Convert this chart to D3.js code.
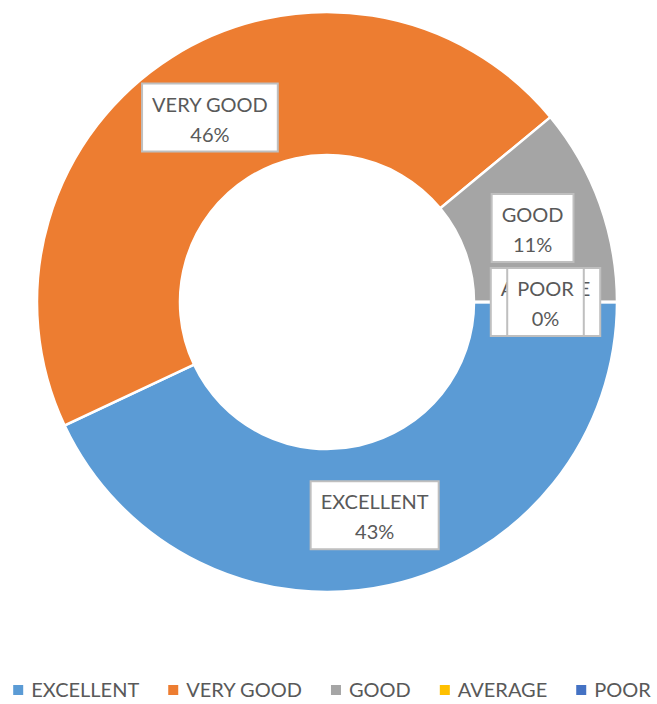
<!DOCTYPE html>
<html>
<head>
    <meta charset="utf-8" />
    <title>Rating donut</title>
    <script src="https://cdn.jsdelivr.net/npm/d3@7"></script>
    <style>
        body { margin: 0; background: #fff; }
        text { font-family: Lato, "Open Sans", sans-serif; fill: #595959; }
    </style>
</head>
<body>
    <script>
        // data
        var categories = ["EXCELLENT", "VERY GOOD", "GOOD", "AVERAGE", "POOR"];
        var values = [43, 46, 11, 0, 0];
        var colors = ["#5B9BD5", "#ED7D31", "#A5A5A5", "#FFC000", "#4472C4"];

        var w = 657, h = 704;
        var cx = 327, cy = 302;
        var outerR = 290, innerR = 147;
        var fontSize = 20;

        var total = d3.sum(values);
        var data = categories.map(function (c, i) {
            return { name: c, value: values[i], color: colors[i] };
        });

        var svg = d3.select("body").append("svg")
            .attr("width", w)
            .attr("height", h);

        var pie = d3.pie()
            .sort(null)
            .value(function (d) { return d.value; })
            .startAngle(Math.PI / 2)
            .endAngle(Math.PI / 2 + 2 * Math.PI);

        var arc = d3.arc().innerRadius(innerR).outerRadius(outerR);
        var labelArc = d3.arc()
            .innerRadius((innerR + outerR) / 2)
            .outerRadius((innerR + outerR) / 2);

        var arcs = pie(data);

        var g = svg.append("g")
            .attr("transform", "translate(" + cx + "," + cy + ")");

        // slices
        g.selectAll("path.slice")
            .data(arcs)
            .enter()
            .append("path")
            .attr("class", "slice")
            .attr("d", arc)
            .attr("fill", function (d) { return d.data.color; })
            .attr("stroke", "#fff")
            .attr("stroke-width", 2.5);

        // data labels (drawn in order, so later ones sit on top)
        var labels = g.selectAll("g.label")
            .data(arcs)
            .enter()
            .append("g")
            .attr("class", "label")
            .attr("transform", function (d) {
                var c = labelArc.centroid(d);
                return "translate(" + c[0] + "," + c[1] + ")";
            });

        labels.each(function (d) {
            var lg = d3.select(this);
            var box = lg.append("rect");
            var t1 = lg.append("text")
                .attr("text-anchor", "middle")
                .attr("y", -6)
                .style("font-size", fontSize + "px")
                .text(d.data.name);
            var t2 = lg.append("text")
                .attr("text-anchor", "middle")
                .attr("y", 24)
                .style("font-size", fontSize + "px")
                .text(Math.round(d.data.value / total * 100) + "%");
            var tw = Math.max(t1.node().getComputedTextLength(), t2.node().getComputedTextLength());
            var bw = tw + 20;
            box.attr("x", -bw / 2)
                .attr("y", -34)
                .attr("width", bw)
                .attr("height", 68)
                .attr("fill", "#fff")
                .attr("stroke", "#BFBFBF")
                .attr("stroke-width", 2);
        });

        // legend
        var legend = svg.append("g").attr("class", "legend");
        var sq = 10, gapText = 8, gapItem = 29;
        var xPos = 0;
        var items = legend.selectAll("g.item")
            .data(data)
            .enter()
            .append("g")
            .attr("class", "item");

        items.each(function (d) {
            var it = d3.select(this);
            it.append("rect")
                .attr("x", 0)
                .attr("y", -sq / 2)
                .attr("width", sq)
                .attr("height", sq)
                .attr("fill", d.color);
            var t = it.append("text")
                .attr("x", sq + gapText)
                .attr("y", 7)
                .style("font-size", fontSize + "px")
                .text(d.name);
            it.attr("transform", "translate(" + xPos + ",0)");
            xPos += sq + gapText + t.node().getComputedTextLength() + gapItem;
        });

        var legendW = xPos - gapItem;
        legend.attr("transform", "translate(" + (332 - legendW / 2) + ",690)");
    </script>
</body>
</html>
